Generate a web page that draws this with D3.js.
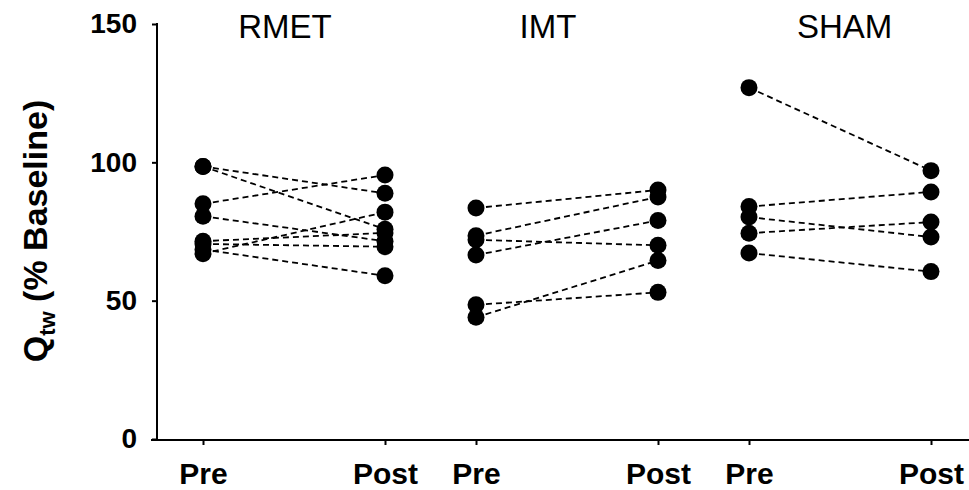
<!DOCTYPE html>
<html>
<head>
<meta charset="utf-8">
<script src="https://cdn.jsdelivr.net/npm/d3@7"></script>
<style>
  body { margin: 0; background: #fff; }
  svg { display: block; font-family: "Liberation Sans", Arial, sans-serif; }
</style>
</head>
<body>
<div id="chart"></div>
<script>
// data
const groups = ["RMET", "IMT", "SHAM"];
const timeLabels = ["Pre", "Post"];
const yTicks = [0, 50, 100, 150];

const rmetPre = [98.5, 98.5, 85, 80.5, 71.5, 70.5, 67, 68.5];
const rmetPost = [88.8, 75.8, 95.4, 71.5, 74.5, 69.5, 82, 59];
const imtPre = [83.5, 73.5, 72, 66.5, 48.5, 44];
const imtPost = [90, 87.5, 70, 79, 53, 64.5];
const shamPre = [127, 84, 80.2, 74.4, 67.2];
const shamPost = [97, 89.3, 73, 78.4, 60.5];

const pairs = [
  [rmetPre, rmetPost],
  [imtPre, imtPost],
  [shamPre, shamPost],
];

const w = 969,
  h = 490;

const svg = d3
  .select("#chart")
  .append("svg")
  .attr("width", w)
  .attr("height", h);

// slot positions: pre/post of each group, with a gap between groups
const slot = (g, t) => g * 3 + t * 2;
const titleSlot = [0.9, 3.79, 7.05];

const x = d3.scaleLinear().domain([0, 8]).range([203, 931]);
const y = d3.scaleLinear().domain([0, 150]).range([439, 24]);

// y axis
const yAxis = d3.axisLeft(y).tickValues(yTicks).tickSize(5).tickPadding(15).tickSizeOuter(0);
const gy = svg.append("g").attr("transform", "translate(157,0)").call(yAxis);
gy.select(".domain").attr("stroke-width", 2).attr("d", "M0,23V440");
gy.selectAll(".tick line").attr("stroke-width", 2);
gy.selectAll(".tick text")
  .attr("font-size", 28)
  .attr("font-weight", "bold")
  .attr("fill", "#000")
  .attr("font-family", "Liberation Sans, Arial, sans-serif");

// x axis
const xTickVals = [];
groups.forEach((g, gi) => timeLabels.forEach((t, ti) => xTickVals.push(slot(gi, ti))));
const xAxis = d3
  .axisBottom(x)
  .tickValues(xTickVals)
  .tickFormat((d, i) => timeLabels[i % 2])
  .tickSize(5)
  .tickPadding(18)
  .tickSizeOuter(0);
const gx = svg.append("g").attr("transform", "translate(0,440)").call(xAxis);
gx.select(".domain").attr("stroke-width", 2).attr("d", "M151,0H969");
gx.selectAll(".tick line").attr("stroke-width", 2);
gx.selectAll(".tick text")
  .attr("font-size", 30)
  .attr("font-weight", "bold")
  .attr("fill", "#000")
  .attr("font-family", "Liberation Sans, Arial, sans-serif");

// group titles
svg
  .selectAll(".title")
  .data(groups)
  .enter()
  .append("text")
  .attr("class", "title")
  .attr("x", (d, i) => x(titleSlot[i]))
  .attr("y", 38)
  .attr("text-anchor", "middle")
  .attr("font-size", 33)
  .text((d) => d);

// y title
const yt = svg
  .append("text")
  .attr("transform", "translate(47,231) rotate(-90)")
  .attr("text-anchor", "middle")
  .attr("font-size", 34)
  .attr("font-weight", "bold");
yt.append("tspan").text("Q");
yt.append("tspan").attr("font-size", 22).attr("dy", 8).text("tw");
yt.append("tspan").attr("dy", -8).text(" (% Baseline)");

// paired lines and dots
pairs.forEach((p, gi) => {
  const [pre, post] = p;
  const g = svg.append("g");
  g.selectAll("line")
    .data(pre)
    .enter()
    .append("line")
    .attr("x1", x(slot(gi, 0)))
    .attr("x2", x(slot(gi, 1)))
    .attr("y1", (d) => y(d))
    .attr("y2", (d, i) => y(post[i]))
    .attr("stroke", "#000")
    .attr("stroke-width", 1.8)
    .attr("stroke-dasharray", "6,4");
  g.selectAll("circle.pre")
    .data(pre)
    .enter()
    .append("circle")
    .attr("class", "pre")
    .attr("cx", x(slot(gi, 0)))
    .attr("cy", (d) => y(d))
    .attr("r", 8.5);
  g.selectAll("circle.post")
    .data(post)
    .enter()
    .append("circle")
    .attr("class", "post")
    .attr("cx", x(slot(gi, 1)))
    .attr("cy", (d) => y(d))
    .attr("r", 8.5);
});
</script>
</body>
</html>
